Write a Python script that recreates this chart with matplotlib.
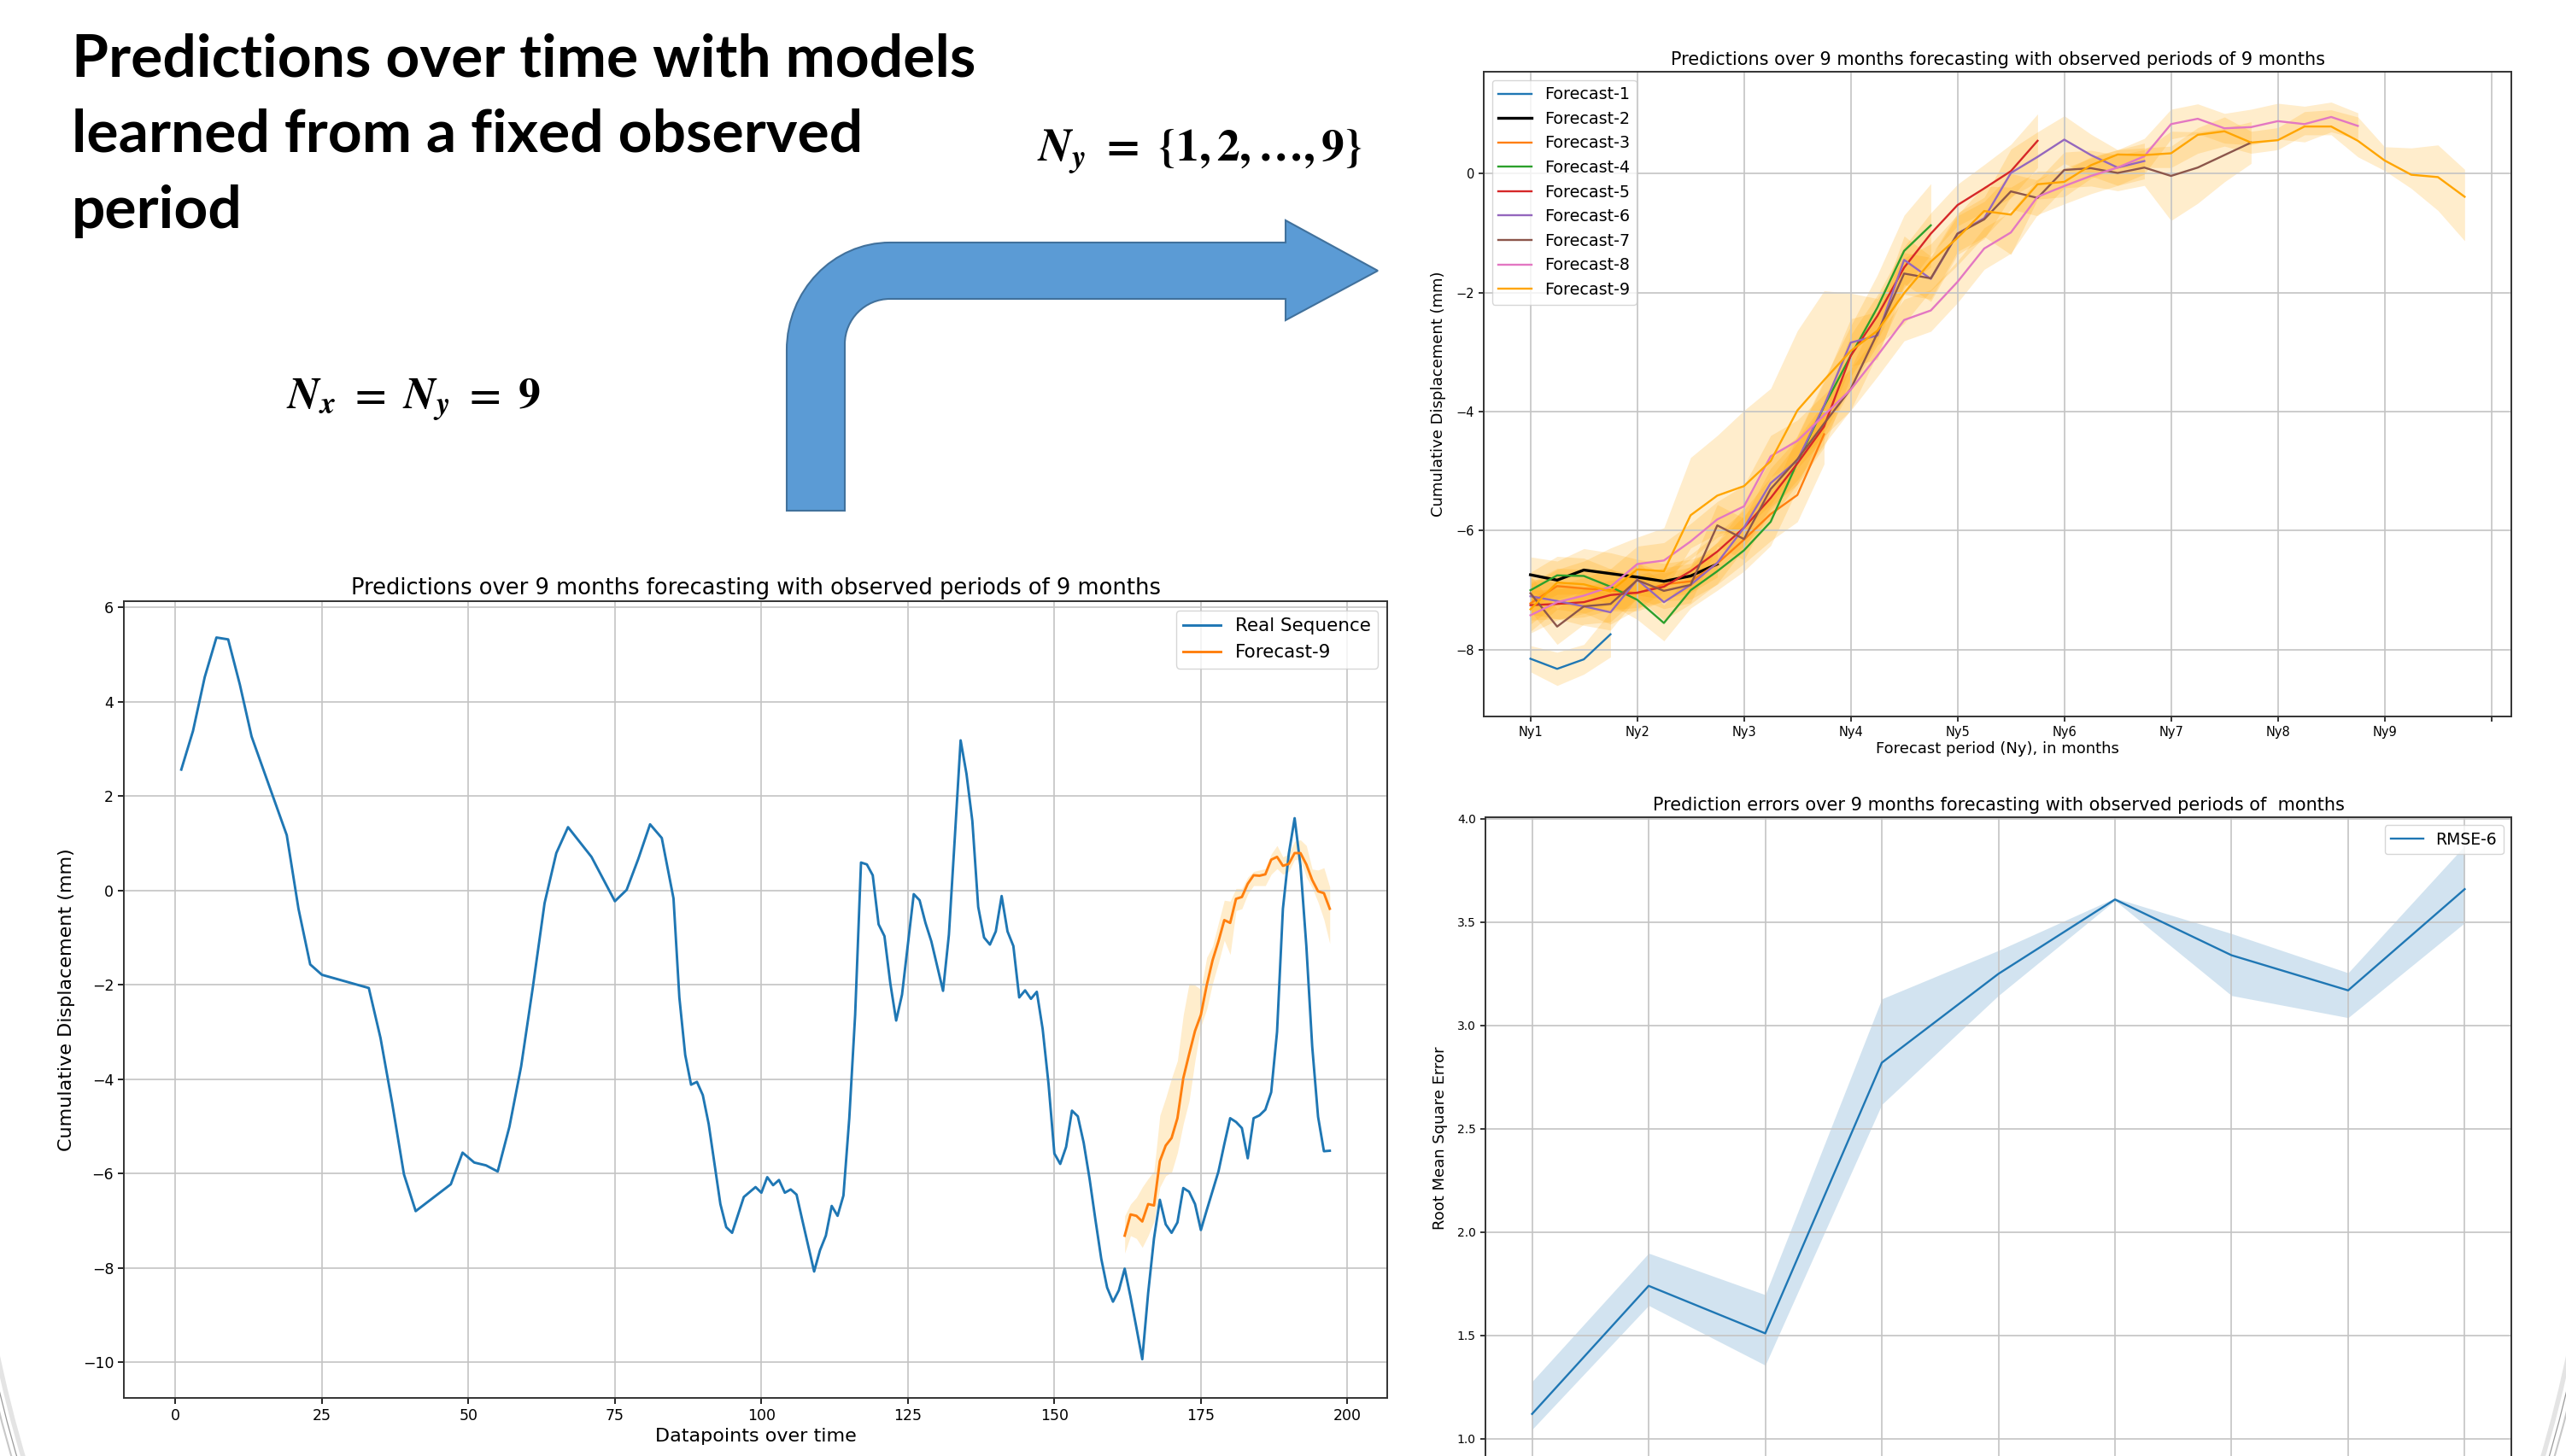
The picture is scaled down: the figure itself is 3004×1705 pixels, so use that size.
import numpy as np
import matplotlib
matplotlib.use('Agg')
import matplotlib.pyplot as plt
from matplotlib.path import Path
from matplotlib.patches import PathPatch, Arc

W, H = 3004, 1705

# ---------------- data ----------------
# real sequence (left chart)
real_x = [1, 3, 5, 7, 9, 11, 13, 19, 21, 23, 25, 33, 35, 37, 39, 41, 47, 49, 51, 53,
          55, 57, 59, 61, 63, 65, 67, 71, 75, 77, 79, 81, 83, 85, 86, 87, 88, 89, 90, 91,
          93, 94, 95, 97, 99, 100, 101, 102, 103, 104, 105, 106, 107, 109, 110, 111, 112, 113, 114, 115,
          116, 117, 118, 119, 120, 121, 122, 123, 124, 126, 127, 128, 129, 131, 132, 133, 134, 135, 136, 137,
          138, 139, 140, 141, 142, 143, 144, 145, 146, 147, 148, 149, 150, 151, 152, 153, 154, 155, 156, 157,
          158, 159, 160, 161, 162, 163, 164, 165, 166, 167, 168, 169, 170, 171, 172, 173, 174, 175, 176, 177,
          178, 179, 180, 181, 182, 183, 184, 185, 186, 187, 188, 189, 190, 191, 192, 193, 194, 195, 196, 197]
real_y = [2.56, 3.38, 4.52, 5.36, 5.32, 4.36, 3.26, 1.17, -0.39, -1.57, -1.79, -2.07, -3.13, -4.52, -6.02, -6.80, -6.23, -5.56, -5.77, -5.83,
          -5.96, -5.01, -3.73, -2.05, -0.27, 0.79, 1.34, 0.71, -0.23, 0.01, 0.67, 1.40, 1.11, -0.17, -2.27, -3.49, -4.12, -4.06, -4.34, -4.95,
          -6.65, -7.14, -7.26, -6.50, -6.29, -6.41, -6.08, -6.25, -6.14, -6.41, -6.34, -6.45, -7.00, -8.08, -7.63, -7.32, -6.69, -6.90, -6.47, -4.83,
          -2.64, 0.59, 0.55, 0.32, -0.72, -0.97, -1.97, -2.76, -2.21, -0.08, -0.21, -0.69, -1.08, -2.13, -0.94, 1.10, 3.18, 2.47, 1.47, -0.35,
          -1.00, -1.15, -0.87, -0.12, -0.87, -1.18, -2.27, -2.12, -2.30, -2.15, -2.94, -4.10, -5.58, -5.80, -5.44, -4.67, -4.79, -5.35, -6.11, -6.98,
          -7.81, -8.42, -8.72, -8.48, -8.02, -8.62, -9.27, -9.94, -8.54, -7.38, -6.56, -7.08, -7.26, -7.04, -6.31, -6.39, -6.65, -7.20, -6.78, -6.37,
          -5.96, -5.38, -4.83, -4.91, -5.04, -5.68, -4.83, -4.77, -4.65, -4.28, -3.00, -0.39, 0.77, 1.53, 0.52, -1.18, -3.31, -4.80, -5.53, -5.52]

f9_start = 162  # first datapoint of Forecast-9 in the real sequence

# forecasts (top right chart), mean values
forecasts = {
    'Forecast-1': [-8.15, -8.32, -8.16, -7.74],
    'Forecast-2': [-6.74, -6.83, -6.66, -6.72, -6.78, -6.85, -6.76, -6.56],
    'Forecast-3': [-7.22, -6.93, -6.97, -7.00, -7.05, -6.90, -6.85, -6.55, -6.15, -5.72, -5.40, -4.38],
    'Forecast-4': [-7.00, -6.75, -6.76, -6.94, -7.16, -7.55, -7.00, -6.68, -6.33, -5.85, -4.85, -3.91,
                   -3.06, -2.25, -1.30, -0.87],
    'Forecast-5': [-7.25, -7.23, -7.20, -7.08, -7.04, -6.94, -6.68, -6.35, -5.95, -5.45, -4.87, -4.25,
                   -3.06, -2.39, -1.58, -1.01, -0.53, -0.25, 0.04, 0.55],
    'Forecast-6': [-7.10, -7.18, -7.27, -7.37, -6.82, -7.20, -6.91, -6.54, -5.95, -5.20, -4.82, -3.90,
                   -2.84, -2.72, -1.45, -1.77, -1.01, -0.75, 0.01, 0.28, 0.57, 0.31, 0.10, 0.21],
    'Forecast-7': [-7.05, -7.61, -7.27, -7.23, -6.83, -7.01, -6.91, -5.91, -6.14, -5.30, -4.80, -4.20,
                   -3.62, -2.68, -1.68, -1.76, -1.01, -0.77, -0.30, -0.41, 0.06, 0.09, 0.01, 0.10,
                   -0.04, 0.10, 0.31, 0.52],
    'Forecast-8': [-7.42, -7.20, -7.09, -6.94, -6.56, -6.50, -6.18, -5.81, -5.59, -4.75, -4.49, -4.06,
                   -3.63, -3.06, -2.46, -2.30, -1.82, -1.26, -0.99, -0.39, -0.21, -0.04, 0.10, 0.29,
                   0.83, 0.92, 0.76, 0.78, 0.88, 0.83, 0.95, 0.80],
    'Forecast-9': [-7.32, -6.87, -6.90, -7.02, -6.65, -6.68, -5.74, -5.41, -5.25, -4.83, -3.98, -3.47,
                   -2.98, -2.64, -2.01, -1.48, -1.08, -0.63, -0.69, -0.18, -0.14, 0.14, 0.32, 0.31,
                   0.34, 0.65, 0.71, 0.52, 0.56, 0.79, 0.79, 0.55, 0.22, -0.02, -0.06, -0.39],
}
# half width of the uncertainty band for forecasts 1..8
spreads = {
    'Forecast-1': [0.22, 0.28, 0.25, 0.38],
    'Forecast-2': [0.30, 0.32, 0.36, 0.35, 0.30, 0.30, 0.28, 0.22],
    'Forecast-3': [0.35, 0.30, 0.32, 0.35, 0.30, 0.28, 0.30, 0.35, 0.40, 0.45, 0.45, 0.50],
    'Forecast-4': [0.30, 0.32, 0.30, 0.30, 0.33, 0.30, 0.30, 0.32, 0.35, 0.40, 0.45, 0.45,
                   0.50, 0.55, 0.60, 0.70],
    'Forecast-5': [0.25, 0.25, 0.25, 0.25, 0.25, 0.25, 0.28, 0.30, 0.30, 0.35, 0.35, 0.35,
                   0.35, 0.35, 0.35, 0.35, 0.35, 0.40, 0.45, 0.45],
    'Forecast-6': [0.30, 0.30, 0.32, 0.30, 0.30, 0.30, 0.32, 0.35, 0.35, 0.40, 0.40, 0.40,
                   0.40, 0.40, 0.40, 0.38, 0.35, 0.35, 0.40, 0.42, 0.40, 0.35, 0.30, 0.30],
    'Forecast-7': [0.30, 0.30, 0.30, 0.30, 0.30, 0.30, 0.30, 0.35, 0.35, 0.35, 0.35, 0.35,
                   0.35, 0.35, 0.35, 0.35, 0.30, 0.30, 0.30, 0.30, 0.30, 0.30, 0.30, 0.30,
                   0.75, 0.60, 0.45, 0.35],
    'Forecast-8': [0.30, 0.30, 0.30, 0.30, 0.30, 0.30, 0.30, 0.30, 0.35, 0.35, 0.35, 0.35,
                   0.35, 0.35, 0.35, 0.35, 0.35, 0.35, 0.35, 0.30, 0.30, 0.30, 0.30, 0.30,
                   0.25, 0.25, 0.25, 0.30, 0.30, 0.30, 0.25, 0.22],
}
# Forecast-9 band (shared by both prediction charts)
f9_lower = [-7.69, -7.32, -7.38, -7.57, -7.32, -7.02, -6.29, -6.05, -5.98, -5.56, -4.95, -4.46,
            -3.61, -2.88, -2.52, -1.97, -1.54, -1.06, -1.36, -0.43, -0.39, -0.08, 0.10, 0.10,
            0.10, 0.34, 0.46, 0.34, 0.40, 0.65, 0.65, 0.28, 0.05, -0.25, -0.62, -1.13]
f9_upper = [-6.90, -6.65, -6.51, -6.29, -6.11, -5.95, -4.77, -4.40, -3.98, -3.61, -2.64, -1.97,
            -2.01, -2.10, -1.42, -1.18, -0.69, -0.21, -0.23, 0.04, 0.04, 0.28, 0.40, 0.43,
            0.46, 0.77, 0.95, 0.71, 0.77, 1.04, 1.07, 0.95, 0.45, 0.43, 0.48, 0.07]
colors = ['tab:blue', 'black', 'tab:orange', 'tab:green', 'tab:red',
          'tab:purple', 'tab:brown', 'tab:pink', 'orange']
ny_labels = ['Ny1', 'Ny2', 'Ny3', 'Ny4', 'Ny5', 'Ny6', 'Ny7', 'Ny8', 'Ny9', '']

# RMSE (bottom right chart)
rmse = [1.12, 1.74, 1.51, 2.82, 3.25, 3.61, 3.34, 3.17, 3.66]
rmse_lower = [1.045, 1.645, 1.356, 2.618, 3.145, 3.605, 3.145, 3.038, 3.497]
rmse_upper = [1.277, 1.898, 1.697, 3.129, 3.363, 3.617, 3.445, 3.255, 3.870]

plt.rcParams['font.family'] = 'DejaVu Sans'
plt.rcParams['axes.edgecolor'] = '#333333'
plt.rcParams['axes.linewidth'] = 1.4

fig = plt.figure(figsize=(W / 100, H / 100), dpi=100)

# ---------------- slide decorations (pixel coordinates) ----------------
bg = fig.add_axes([0, 0, 1, 1], zorder=0)
bg.set_xlim(0, W)
bg.set_ylim(H, 0)
bg.axis('off')

for r, c, lw in [(1538, '#e4e4e4', 4), (1545, '#9a9a9a', 0.9), (1551, '#c8c8c8', 1.5)]:
    bg.add_patch(Arc((1502, 1270), 2 * r, 2 * r, theta1=0, theta2=180, color=c, lw=lw))

title_lines = ['Predictions over time with models', 'learned from a fixed observed', 'period']
for i, line in enumerate(title_lines):
    bg.text(84, 89 + 89 * i, line, fontsize=50, fontweight='bold', family='Lato',
            va='baseline', ha='left')

plt.rcParams['mathtext.fontset'] = 'stix'
bg.text(1214, 189, r'$\mathbfit{N}_{\mathbfit{y}}\mathbf{\ =\ \{1,2,\ldots,9\}}$',
        fontsize=38.5, va='baseline', ha='left')
bg.text(335, 479, r'$\mathbfit{N}_{\mathbfit{x}}\mathbf{\ =\ }\mathbfit{N}_{\mathbfit{y}}\mathbf{\ =\ 9}$',
        fontsize=37, va='baseline', ha='left')

# bent arrow
k = 0.552
verts = [(921, 598), (921, 410),
         (921, 410 - k * 126), (1042 - k * 121, 284), (1042, 284),
         (1505, 284), (1505, 258), (1613, 317), (1505, 375), (1505, 350), (1042, 350),
         (1042 - k * 53, 350), (989, 403 - k * 53), (989, 403),
         (989, 598), (921, 598)]
codes = [Path.MOVETO, Path.LINETO,
         Path.CURVE4, Path.CURVE4, Path.CURVE4,
         Path.LINETO, Path.LINETO, Path.LINETO, Path.LINETO, Path.LINETO, Path.LINETO,
         Path.CURVE4, Path.CURVE4, Path.CURVE4,
         Path.LINETO, Path.CLOSEPOLY]
bg.add_patch(PathPatch(Path(verts, codes), facecolor='#5B9BD5', edgecolor='#41719C', lw=1.5))

grid_kw = dict(color='#c4c4c4', lw=1.2)

# ---------------- left chart ----------------
ax1 = fig.add_axes([145 / W, 1 - 1637 / H, 1479 / W, 933 / H])
ax1.plot(real_x, real_y, color='tab:blue', lw=2.1, label='Real Sequence')
f9x = np.arange(len(forecasts['Forecast-9'])) + f9_start
ax1.plot(f9x, forecasts['Forecast-9'], color='tab:orange', lw=2.1, label='Forecast-9')
ax1.fill_between(f9x, f9_lower, f9_upper, color='orange', alpha=0.2, lw=0)
ax1.set_xlim(-8.8, 206.8)
ax1.set_ylim(-10.76, 6.13)
ax1.set_xticks(range(0, 201, 25))
ax1.set_yticks(range(-10, 7, 2))
ax1.grid(True, **grid_kw)
ax1.tick_params(labelsize=12.5, length=5, width=1.2)
ax1.set_title('Predictions over 9 months forecasting with observed periods of 9 months',
              fontsize=18.5, pad=6)
ax1.set_xlabel('Datapoints over time', fontsize=16, labelpad=4)
ax1.set_ylabel('Cumulative Displacement (mm)', fontsize=16, labelpad=6)
ax1.legend(loc='upper right', fontsize=15.5)

# ---------------- top right chart ----------------
ax2 = fig.add_axes([1737 / W, 1 - 839 / H, 1203 / W, 755 / H])
for (name, mean), col in zip(forecasts.items(), colors):
    x = np.arange(len(mean))
    lw = 2.4 if col == 'black' else 1.7
    ax2.plot(x, mean, color=col, lw=lw, label=name)
    if name == 'Forecast-9':
        lo, hi = np.array(f9_lower), np.array(f9_upper)
    else:
        s = np.array(spreads[name])
        lo, hi = np.array(mean) - s, np.array(mean) + s
    ax2.fill_between(x, lo, hi, color='orange', alpha=0.2, lw=0)
ax2.set_xlim(-1.75, 36.75)
ax2.set_ylim(-9.12, 1.71)
ax2.set_xticks(range(0, 37, 4))
ax2.set_xticklabels(ny_labels)
ax2.set_yticks(range(-8, 1, 2))
ax2.grid(True, **grid_kw)
ax2.tick_params(labelsize=10.5, length=4.5, width=1.1)
ax2.set_title('Predictions over 9 months forecasting with observed periods of 9 months',
              fontsize=15, pad=6)
ax2.set_xlabel('Forecast period (Ny), in months', fontsize=13, labelpad=2)
ax2.set_ylabel('Cumulative Displacement (mm)', fontsize=13, labelpad=8)
ax2.legend(loc='upper left', fontsize=13.8)

# ---------------- bottom right chart ----------------
ax3 = fig.add_axes([1739 / W, 1 - 1708 / H, 1201 / W, 751 / H])
xr = np.arange(len(rmse))
ax3.plot(xr, rmse, color='tab:blue', lw=1.7, label='RMSE-6')
ax3.fill_between(xr, rmse_lower, rmse_upper, color='tab:blue', alpha=0.2, lw=0)
ax3.set_xlim(-0.4, 8.4)
ax3.set_ylim(0.904, 4.008)
ax3.set_xticks(xr)
ax3.set_yticks(np.arange(1.0, 4.01, 0.5))
ax3.yaxis.set_major_formatter(matplotlib.ticker.FormatStrFormatter('%.1f'))
ax3.grid(True, **grid_kw)
# x tick labels fall below the slide edge, as in the original
ax3.tick_params(labelsize=10, length=4.5, width=1.1, labelbottom=False)
ax3.set_title('Prediction errors over 9 months forecasting with observed periods of  months',
              fontsize=15, pad=6)
ax3.set_ylabel('Root Mean Square Error', fontsize=13, labelpad=8)
ax3.legend(loc='upper right', fontsize=13.5)

fig.savefig('out.png', dpi=100)
